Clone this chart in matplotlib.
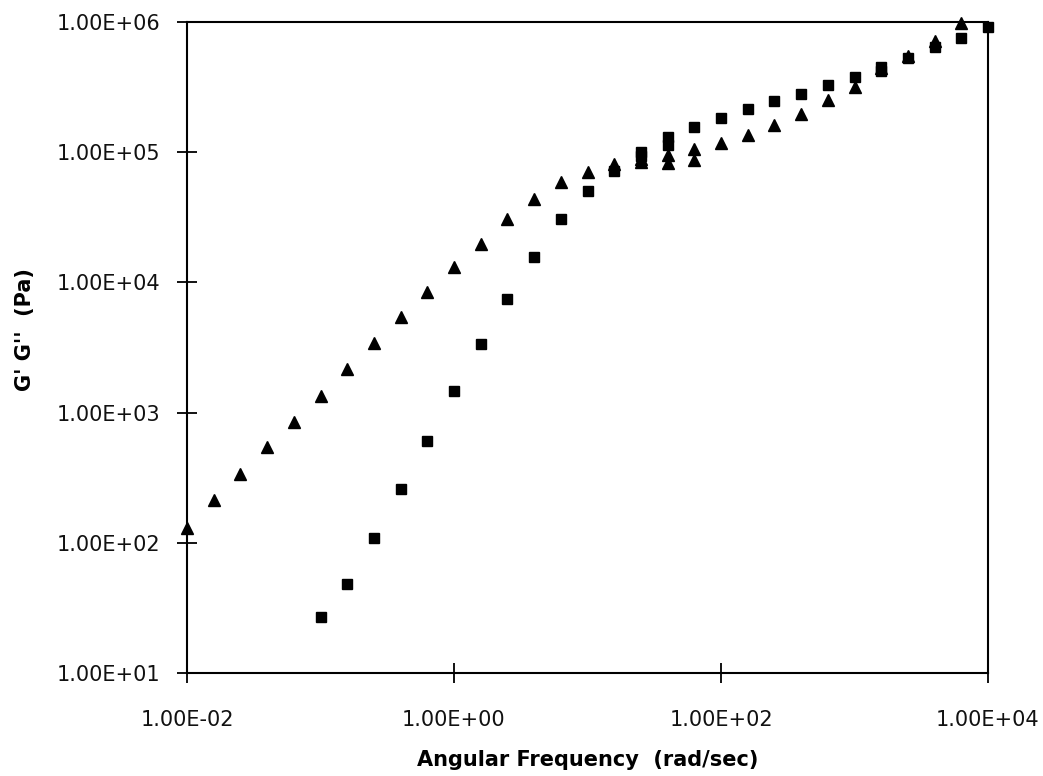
import matplotlib
matplotlib.use("Agg")
import matplotlib.pyplot as plt
from matplotlib.ticker import FixedLocator, FixedFormatter, NullLocator

# Angular frequency (rad/sec) and moduli (Pa)
tri_freq = [0.01, 0.0158, 0.0251, 0.0398, 0.0631, 0.1, 0.158, 0.251, 0.398, 0.631,
            1.0, 1.58, 2.51, 3.98, 6.31, 10.0, 15.8, 25.1, 25.1, 39.8, 39.8, 63.1, 63.1,
            100, 158, 251, 398, 631, 1000, 1580, 2510, 3980, 6310]
tri_vals = [130, 213, 340, 540, 850, 1350, 2150, 3400, 5400, 8400,
            13200, 19800, 30500, 43800, 59000, 70000, 81000, 88000, 84000, 96000, 83000, 106000, 87000,
            117000, 135000, 162000, 196000, 252000, 318000, 440000, 548000, 715000, 990000]

sq_freq = [0.1, 0.158, 0.251, 0.398, 0.631, 1.0, 1.58, 2.51, 3.98, 6.31,
           10.0, 15.8, 25.1, 25.1, 39.8, 39.8, 63.1, 100, 158, 251, 398, 631,
           1000, 1580, 1580, 2510, 3980, 6310, 10000]
sq_vals = [27, 48, 108, 260, 610, 1460, 3380, 7500, 15800, 30500,
           50000, 72000, 100000, 93000, 131000, 113000, 157000, 184000, 214000, 247000, 280000, 327000,
           380000, 455000, 420000, 527000, 640000, 750000, 920000]

x_ticks = [1e-2, 1e0, 1e2, 1e4]
x_labels = ["1.00E-02", "1.00E+00", "1.00E+02", "1.00E+04"]
y_ticks = [1e1, 1e2, 1e3, 1e4, 1e5, 1e6]
y_labels = ["1.00E+01", "1.00E+02", "1.00E+03", "1.00E+04", "1.00E+05", "1.00E+06"]

plt.rcParams['font.family'] = ['DejaVu Sans']

fig = plt.figure(figsize=(10.43, 7.76), dpi=100)
ax = fig.add_axes([187/1043, 1 - 673/776, (988-187)/1043, (673-22)/776])

ax.plot(sq_freq, sq_vals, linestyle='none', marker='s', markersize=7.5,
        color='black', clip_on=False, zorder=3)
ax.plot(tri_freq, tri_vals, linestyle='none', marker='^', markersize=9,
        color='black', clip_on=False, zorder=3)

ax.set_xscale('log')
ax.set_yscale('log')
ax.set_xlim(1e-2, 1e4)
ax.set_ylim(1e1, 1e6)

ax.xaxis.set_major_locator(FixedLocator(x_ticks))
ax.xaxis.set_major_formatter(FixedFormatter(x_labels))
ax.xaxis.set_minor_locator(NullLocator())
ax.yaxis.set_major_locator(FixedLocator(y_ticks))
ax.yaxis.set_major_formatter(FixedFormatter(y_labels))
ax.yaxis.set_minor_locator(NullLocator())

ax.tick_params(axis='both', direction='inout', length=14, width=1.3,
               labelsize=15, color='black', labelcolor='#111111')
ax.tick_params(axis='x', pad=20)
ax.tick_params(axis='y', pad=12)

for s in ax.spines.values():
    s.set_linewidth(1.5)
    s.set_color('black')

ax.set_xlabel("Angular Frequency  (rad/sec)", fontsize=15, fontweight='bold', labelpad=14)
ax.set_ylabel("G' G''  (Pa)", fontsize=15, fontweight='bold')
ax.yaxis.set_label_coords(-0.19, 0.527)

fig.savefig("out.png", dpi=100, facecolor='white')
